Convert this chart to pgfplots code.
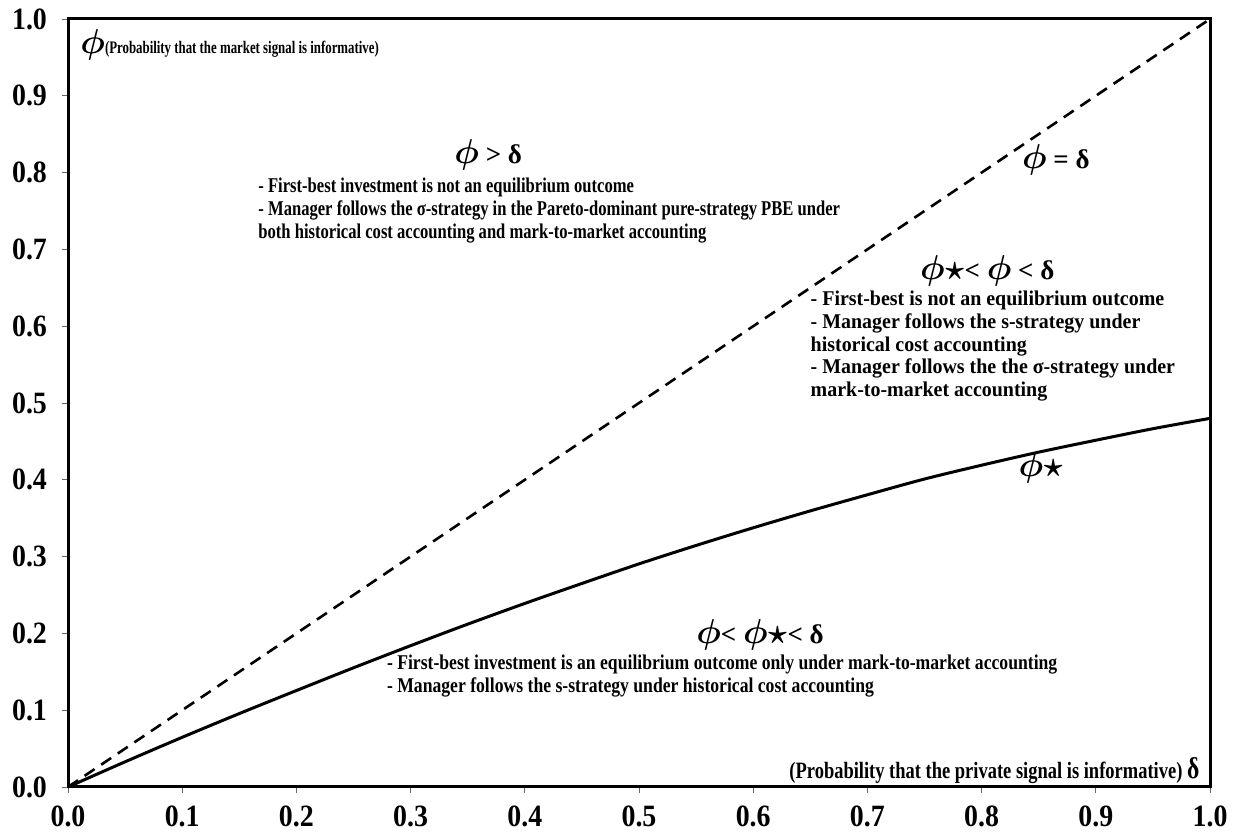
\documentclass[border=0pt]{standalone}
\usepackage{pgfplots}
\pgfplotsset{compat=1.18}
\usepackage{fontspec}
\setmainfont{Liberation Serif}
\newfontfamily\condA{Liberation Serif}[FakeStretch=0.79]
\newfontfamily\condB{Liberation Serif}[FakeStretch=0.95]
\newfontfamily\condC{Liberation Serif}[FakeStretch=0.84]
\newfontfamily\condT{Liberation Serif}[FakeStretch=0.73]
\newfontfamily\tickf{Liberation Serif}[FakeStretch=0.9]
\newcommand\bodysize{\fontsize{10.5}{11.3}\selectfont\bfseries}
\newcommand\head{\fontsize{13.5}{15}\selectfont\bfseries}
\newcommand\ph{{\fontsize{16}{16}\selectfont\boldmath$\phi$}}
\newcommand\phs{{\fontsize{16}{16}\selectfont\boldmath$\phi\mathord{\star}$}}
\begin{document}
\begin{tikzpicture}
\begin{axis}[
  scale only axis, width=571pt, height=384pt,
  xmin=0, xmax=1, ymin=0, ymax=1,
  axis line style={line width=1.5pt},
  xtick={0,0.1,0.2,0.3,0.4,0.5,0.6,0.7,0.8,0.9,1.0},
  ytick={0,0.1,0.2,0.3,0.4,0.5,0.6,0.7,0.8,0.9,1.0},
  tick align=outside, tick pos=left, major tick length=3pt,
  tick style={line width=0.4pt, black!60},
  ticklabel style={font=\tickf\fontsize{15.5}{16}\selectfont\bfseries},
  xticklabel style={yshift=-3pt},
  yticklabel style={xshift=-4pt},
  /pgf/number format/fixed, /pgf/number format/fixed zerofill,
  /pgf/number format/precision=1, /pgf/number format/assume math mode=true,
  clip=false,
]
\addplot[black, line width=1.3pt, dash pattern=on 6pt off 4pt] coordinates {(0,0) (1,1)};
\addplot[black, line width=1.5pt, smooth] coordinates {
(0,0) (0.05,0.0328) (0.1,0.0647) (0.15,0.0956) (0.2,0.1256) (0.25,0.1552)
(0.3,0.1840) (0.35,0.2120) (0.4,0.2390) (0.45,0.2650) (0.5,0.2905)
(0.55,0.3145) (0.6,0.3375) (0.65,0.3595) (0.7,0.3805) (0.75,0.4010)
(0.8,0.4190) (0.85,0.4360) (0.9,0.4515) (0.95,0.4665) (1.0,0.4800)};

\node[anchor=west, inner sep=0, font=\condT\fontsize{8.8}{10}\selectfont\bfseries] at (axis cs:0.0105,0.966) {\ph(Probability that the market signal is informative)};
\node[anchor=east, inner sep=0, font=\condA\fontsize{11.7}{12}\selectfont\bfseries] at (axis cs:0.991,0.021) {(Probability that the private signal is informative) {\fontsize{15}{15}\selectfont δ}};

\node[font=\head] at (axis cs:0.368,0.823) {\ph\ > δ};
\node[anchor=north west, align=left, inner sep=0, font=\condA\bodysize] at (axis cs:0.1664,0.793) {- First-best investment is not an equilibrium outcome\\- Manager follows the σ-strategy in the Pareto-dominant pure-strategy PBE under\\both historical cost accounting and mark-to-market accounting};

\node[font=\head] at (axis cs:0.865,0.817) {\ph\ = δ};

\node[font=\head] at (axis cs:0.805,0.672) {\phs< \ph\ < δ};
\node[anchor=north west, align=left, inner sep=0, font=\condB\bodysize] at (axis cs:0.650,0.646) {- First-best is not an equilibrium outcome\\- Manager follows the s-strategy under\\historical cost accounting\\- Manager follows the the σ-strategy under\\mark-to-market accounting};

\node[font=\head] at (axis cs:0.852,0.415) {\phs};

\node[font=\head] at (axis cs:0.606,0.198) {\ph< \phs< δ};
\node[anchor=north west, align=left, inner sep=0, font=\condC\bodysize] at (axis cs:0.279,0.172) {- First-best investment is an equilibrium outcome only under mark-to-market accounting\\- Manager follows the s-strategy under historical cost accounting};
\end{axis}
\pgfresetboundingbox
\path[use as bounding box] ([shift={(-34pt,-23.5pt)}]current axis.south west) rectangle ([shift={(13pt,9.5pt)}]current axis.north east);
\end{tikzpicture}
\end{document}
